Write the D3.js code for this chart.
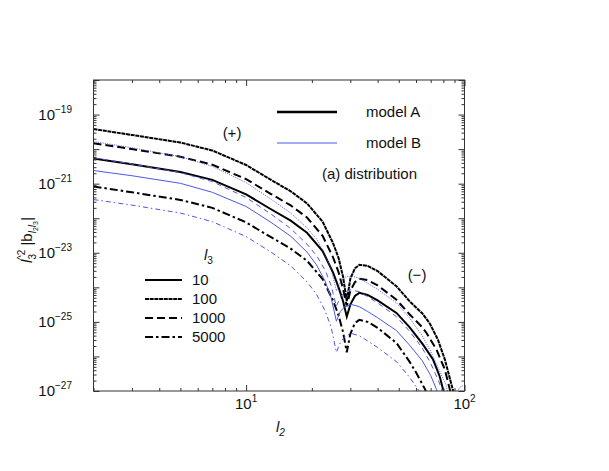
<!DOCTYPE html>
<head>
	<meta charset="utf-8">
	<title>l2 distribution</title>
	<style>
		body {
			margin: 0;
			background: #fff;
			font-family: 'Liberation Sans', Arial, sans-serif;
		}
		.frame { fill: none; stroke: #333; stroke-width: 1; }
		.ticks line { stroke: #333; stroke-width: 1; }
		.ticks path { display: none; }
		text { fill: #111; }
	</style>
</head>
<body>
<script src="https://d3js.org/d3.v7.min.js"></script>
<script>

// chart size
var width = 609;
var height = 471;

// values: [l2, log10(l3^2 |b|)]
var A10 = [[2,-20.27],[3,-20.44],[5,-20.66],[7,-20.89],[10,-21.31],[13,-21.74],[16,-22.07],[19,-22.42],[22.4,-22.95],[25,-23.57],[26.5,-24.0],[27.8,-24.4],[28.9,-24.85],[30,-24.5],[31.5,-24.25],[33,-24.16],[36,-24.22],[40,-24.38],[48.8,-24.74],[56,-25.15],[64.6,-25.66],[71.8,-26.09],[77,-26.58],[79.8,-26.96],[83,-27.4]];
var A100 = [[2,-19.42],[3,-19.59],[5,-19.81],[7,-20.04],[10,-20.46],[13,-20.89],[16,-21.22],[19,-21.57],[22.4,-22.10],[25,-22.72],[26.5,-23.15],[27.8,-23.7],[28.9,-24.4],[30,-23.75],[31.5,-23.45],[33,-23.35],[36,-23.38],[40,-23.53],[48.8,-23.97],[56,-24.4],[64,-24.75],[69.4,-25.05],[75.5,-25.51],[81.3,-26.09],[88.4,-26.96],[92,-27.4]];
var A1000 = [[2,-19.83],[3,-20.0],[5,-20.22],[7,-20.45],[10,-20.87],[13,-21.3],[16,-21.63],[19,-21.98],[22.4,-22.51],[25,-23.13],[26.5,-23.56],[27.8,-24.05],[28.9,-24.55],[30,-24.1],[31.5,-23.85],[33,-23.75],[36,-23.79],[40,-23.94],[48.8,-24.36],[56,-24.78],[64,-25.15],[67,-25.32],[74.4,-25.8],[81.3,-26.38],[85.7,-26.96],[89,-27.4]];
var A5000 = [[2,-21.08],[3,-21.25],[5,-21.47],[7,-21.7],[10,-22.12],[13,-22.55],[16,-22.88],[19,-23.23],[22.4,-23.76],[25,-24.38],[26.5,-24.81],[27.8,-25.3],[28.9,-25.88],[30,-25.35],[31.5,-25.03],[33,-24.94],[36,-25.0],[40,-25.17],[48.8,-25.61],[56,-26.15],[60.2,-26.48],[66.1,-26.96],[69,-27.4]];

var B10 = [[2,-20.62],[3,-20.77],[5,-20.99],[7,-21.25],[10,-21.66],[13,-22.12],[16,-22.52],[19,-22.98],[21,-23.35],[23,-23.82],[24.5,-24.3],[25.9,-24.98],[27,-24.7],[28.5,-24.54],[30.5,-24.5],[33,-24.56],[36,-24.7],[40,-24.88],[48.8,-25.25],[56,-25.67],[64,-26.12],[70,-26.55],[74.5,-26.96],[77,-27.4]];
var B100 = [[2,-19.78],[3,-19.96],[5,-20.22],[7,-20.5],[10,-20.97],[13,-21.45],[16,-21.85],[19,-22.28],[21,-22.6],[23,-23.04],[24.5,-23.48],[25.9,-24.1],[27,-23.85],[28.5,-23.7],[30.3,-23.67],[33,-23.74],[36,-23.88],[40,-24.06],[48.8,-24.45],[56,-24.88],[64,-25.4],[70,-25.85],[76,-26.35],[82,-26.8],[87,-27.4],[95,-26.9],[98,-26.85]];
var B1000 = [[2,-20.25],[3,-20.43],[5,-20.68],[7,-20.94],[10,-21.4],[13,-21.88],[16,-22.3],[19,-22.75],[21,-23.08],[23,-23.5],[24.5,-23.95],[25.9,-24.55],[27,-24.28],[28.5,-24.12],[30.3,-24.07],[33,-24.13],[36,-24.27],[40,-24.45],[48.8,-24.85],[56,-25.27],[64,-25.75],[70,-26.2],[76,-26.7],[79,-26.98],[81,-27.4]];
var B5000 = [[2,-21.46],[3,-21.62],[5,-21.85],[7,-22.1],[10,-22.53],[13,-22.98],[16,-23.38],[19,-23.84],[21,-24.2],[23,-24.68],[24.5,-25.15],[25.9,-25.88],[27,-25.6],[28.5,-25.4],[30.5,-25.34],[33,-25.4],[36,-25.55],[40,-25.74],[48.8,-26.15],[56,-26.6],[62,-27.0],[65,-27.4]];

var l3Values = ["10", "100", "1000", "5000"];
var models = ["model A", "model B"];
var xLabelExps = [1, 2];
var yLabelExps = [-19, -21, -23, -25, -27];

var blue = "#4b57e6";
// dash styles for each l3, black (model A) and blue (model B)
var dashA = {"10": null, "100": "4,0.7", "1000": "8,4", "5000": "8,3,2.5,3"};
var dashB = {"10": null, "100": "1,1.3", "1000": "5,4", "5000": "5,3,1.5,3"};

// black first, blue drawn on top
var series = [
	{l3: "100", model: "A", data: A100},
	{l3: "1000", model: "A", data: A1000},
	{l3: "10", model: "A", data: A10},
	{l3: "5000", model: "A", data: A5000},
	{l3: "100", model: "B", data: B100},
	{l3: "1000", model: "B", data: B1000},
	{l3: "10", model: "B", data: B10},
	{l3: "5000", model: "B", data: B5000}
];

var plotL = 93.5, plotR = 464.5, plotT = 80, plotB = 391;

var svg = d3.select("body")
	.append("svg")
	.attr("width", width)
	.attr("height", height);

var x = d3.scaleLog().domain([2, 100]).range([plotL, plotR]);
var y = d3.scaleLog().domain([1e-27, 1e-18]).range([plotB, plotT]);

svg.append("clipPath").attr("id", "plot")
	.append("rect")
	.attr("x", plotL).attr("y", plotT)
	.attr("width", plotR - plotL).attr("height", plotB - plotT);

var line = d3.line()
	.x(function(d) { return x(d[0]); })
	.y(function(d) { return y(Math.pow(10, d[1])); });

svg.append("g")
	.attr("clip-path", "url(#plot)")
	.selectAll("path")
	.data(series)
	.enter().append("path")
	.attr("d", function(d) { return line(d.data); })
	.attr("fill", "none")
	.attr("stroke", function(d) { return d.model == "A" ? "#000" : blue; })
	.attr("stroke-width", function(d) { return d.model == "A" ? 2 : 1; })
	.attr("stroke-dasharray", function(d) {
		return d.model == "A" ? dashA[d.l3] : dashB[d.l3];
	});

// ticks, pointing inwards on all four sides
var xMajor = [10, 100];
var xMinor = x.ticks().filter(function(v) { return xMajor.indexOf(v) < 0; });
var yAll = y.ticks();
var yMajor = yAll.filter(function(v) { return Math.abs(Math.log10(v) - Math.round(Math.log10(v))) < 1e-6; });
var yMinor = yAll.filter(function(v) { return yMajor.indexOf(v) < 0; });

function ticks(axis, vals, len, pos) {
	svg.append("g")
		.attr("class", "ticks")
		.attr("transform", pos)
		.call(axis.tickValues(vals).tickSize(len).tickFormat(""));
}
ticks(d3.axisBottom(x), xMajor, -6, "translate(0," + plotB + ")");
ticks(d3.axisBottom(x), xMinor, -3, "translate(0," + plotB + ")");
ticks(d3.axisTop(x), xMajor, -6, "translate(0," + plotT + ")");
ticks(d3.axisTop(x), xMinor, -3, "translate(0," + plotT + ")");
ticks(d3.axisLeft(y), yMajor, -6, "translate(" + plotL + ",0)");
ticks(d3.axisLeft(y), yMinor, -3, "translate(" + plotL + ",0)");
ticks(d3.axisRight(y), yMajor, -6, "translate(" + plotR + ",0)");
ticks(d3.axisRight(y), yMinor, -3, "translate(" + plotR + ",0)");

svg.append("rect")
	.attr("class", "frame")
	.attr("x", plotL).attr("y", plotT)
	.attr("width", plotR - plotL).attr("height", plotB - plotT);

// tick labels 10^n
svg.selectAll(".ylab")
	.data(yLabelExps)
	.enter().append("text")
	.attr("class", "ylab")
	.attr("x", 72)
	.attr("y", function(d) { return y(Math.pow(10, d)) + 5; })
	.attr("text-anchor", "end")
	.style("font-size", "15px")
	.each(function(d) {
		var t = d3.select(this);
		t.append("tspan").text("10");
		t.append("tspan").attr("dy", -7).style("font-size", "10px").text("\u2212" + Math.abs(d));
	});

svg.selectAll(".xlab")
	.data(xLabelExps)
	.enter().append("text")
	.attr("class", "xlab")
	.attr("x", function(d) { return x(Math.pow(10, d)); })
	.attr("y", 409)
	.attr("text-anchor", "middle")
	.style("font-size", "15px")
	.each(function(d) {
		var t = d3.select(this);
		t.append("tspan").text("10");
		t.append("tspan").attr("dy", -7).style("font-size", "10px").text(d);
	});

// axis titles
var xt = svg.append("text")
	.attr("x", 276).attr("y", 432)
	.style("font-size", "15px");
xt.append("tspan").style("font-style", "italic").text("l");
xt.append("tspan").attr("dy", 4).style("font-size", "10px").style("font-style", "italic").text("2");

var yt = svg.append("text")
	.attr("transform", "translate(32,240) rotate(-90)")
	.attr("text-anchor", "middle")
	.style("font-size", "15px");
yt.append("tspan").style("font-style", "italic").text("l");
yt.append("tspan").attr("dy", 4).style("font-size", "10px").text("3");
yt.append("tspan").attr("dx", -6).attr("dy", -11).style("font-size", "10px").text("^2");
yt.append("tspan").attr("dy", 7).text(" |b");
yt.append("tspan").attr("dy", 4).style("font-size", "10px").style("font-style", "italic").text("l");
yt.append("tspan").attr("dy", 2).style("font-size", "7px").text("2");
yt.append("tspan").attr("dy", -2).style("font-size", "10px").style("font-style", "italic").text("l");
yt.append("tspan").attr("dy", 2).style("font-size", "7px").text("3");
yt.append("tspan").attr("dy", -6).style("font-style", "italic").text("|");

// model legend
var ml = svg.append("g");
ml.selectAll("line")
	.data(models)
	.enter().append("line")
	.attr("x1", 277).attr("x2", 337)
	.attr("y1", function(d, i) { return 112 + i * 31; })
	.attr("y2", function(d, i) { return 112 + i * 31; })
	.attr("stroke", function(d, i) { return i == 0 ? "#000" : blue; })
	.attr("stroke-width", function(d, i) { return i == 0 ? 2.5 : 1; });
ml.selectAll("text")
	.data(models)
	.enter().append("text")
	.attr("x", 366)
	.attr("y", function(d, i) { return 117 + i * 31; })
	.style("font-size", "15px")
	.text(function(d) { return d; });

svg.append("text").attr("x", 322).attr("y", 179).style("font-size", "15px").text("(a) distribution");
svg.append("text").attr("x", 232).attr("y", 138).attr("text-anchor", "middle").style("font-size", "15px").text("(+)");
svg.append("text").attr("x", 417).attr("y", 280).attr("text-anchor", "middle").style("font-size", "15px").text("(\u2212)");

// l3 legend
var lt = svg.append("text").attr("x", 204).attr("y", 260).style("font-size", "15px");
lt.append("tspan").style("font-style", "italic").text("l");
lt.append("tspan").attr("dy", 4).style("font-size", "10px").text("3");

var ll = svg.append("g");
ll.selectAll("line")
	.data(l3Values)
	.enter().append("line")
	.attr("x1", 145).attr("x2", 182)
	.attr("y1", function(d, i) { return 280 + i * 19; })
	.attr("y2", function(d, i) { return 280 + i * 19; })
	.attr("stroke", "#000")
	.attr("stroke-width", 2)
	.attr("stroke-dasharray", function(d) { return dashA[d]; });
ll.selectAll("text")
	.data(l3Values)
	.enter().append("text")
	.attr("x", 192)
	.attr("y", function(d, i) { return 285 + i * 19; })
	.style("font-size", "15px")
	.text(function(d) { return d; });

</script>
</body>
</html>
